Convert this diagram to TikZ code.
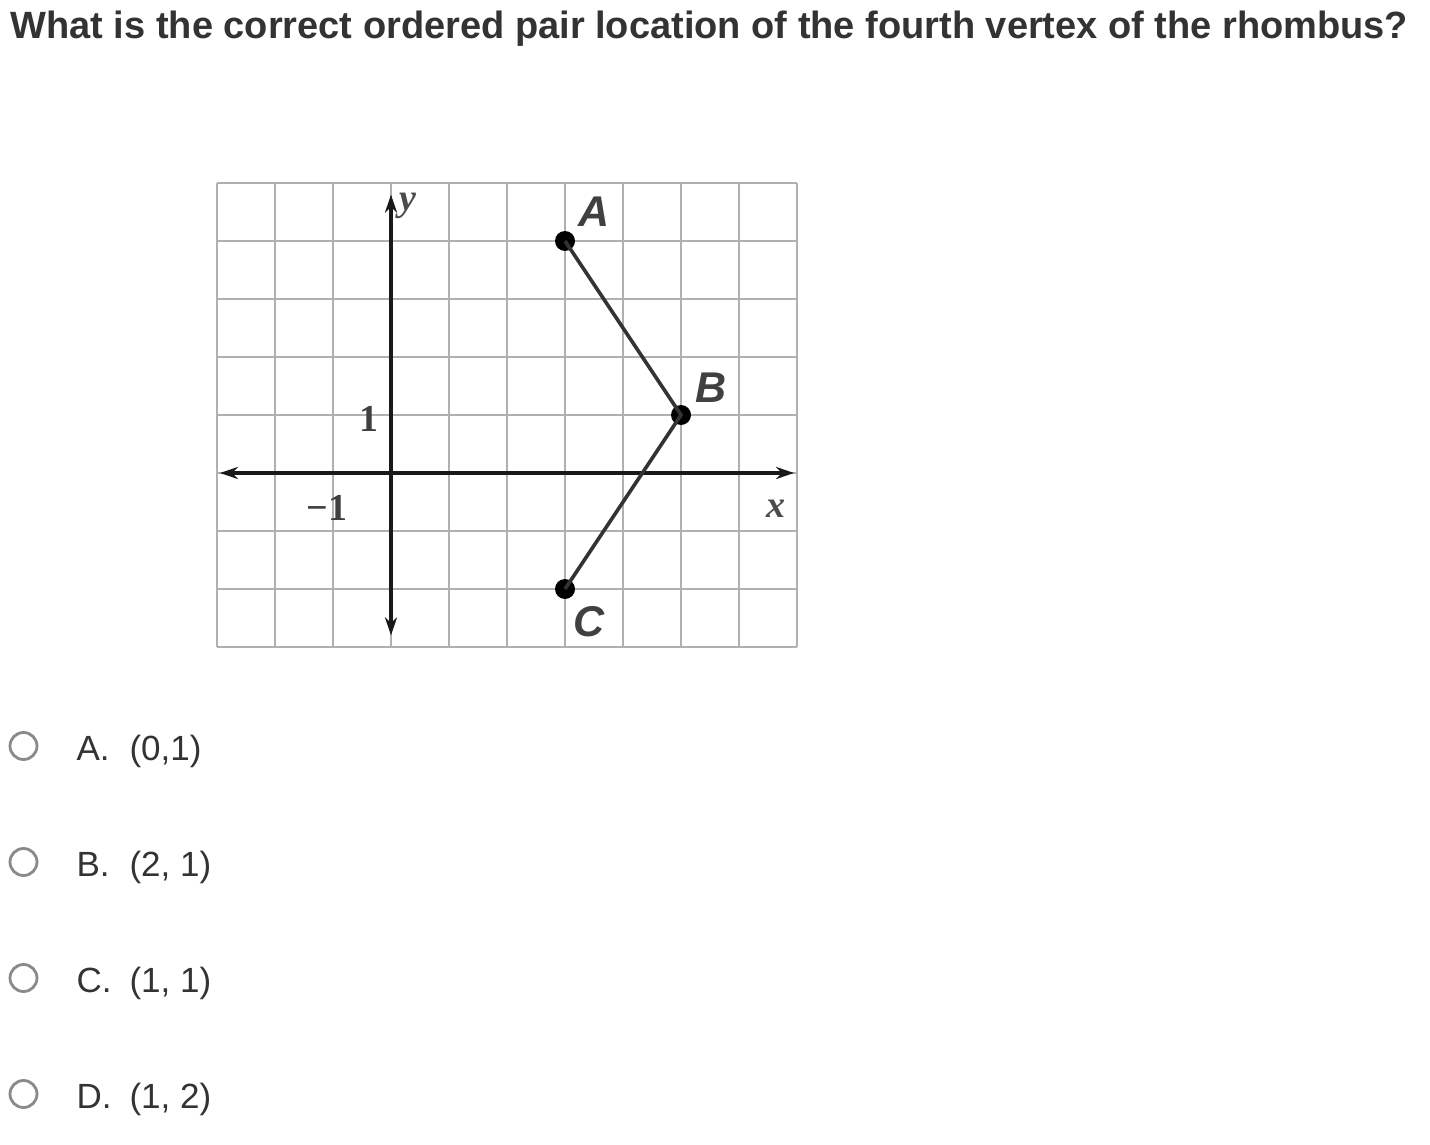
\documentclass[tikz,border=0pt]{standalone}
\usepackage{fontspec}
\setmainfont{Liberation Sans}
\newfontfamily\serifx{Liberation Serif}
\usetikzlibrary{arrows.meta}
\definecolor{txt}{HTML}{333333}
\definecolor{radio}{HTML}{8A8A8A}
\definecolor{gridc}{HTML}{B0B0B0}
\tikzset{
  gridline/.style={draw=gridc, line width=2.8pt},
  axisline/.style={draw=black!90, line width=4.5pt, {Stealth[length=18pt,width=12pt]}-{Stealth[length=18pt,width=12pt]}},
  dot/.style={circle, fill=black, inner sep=0pt, minimum size=20pt},
  seg/.style={draw=black!80, line width=3.6pt},
  ptlabel/.style={font=\bfseries\itshape\fontsize{43}{43}\selectfont, text=black!75},
  axlabel/.style={font=\serifx\bfseries\itshape\fontsize{38}{38}\selectfont, text=black!70},
  ticklabel/.style={font=\serifx\bfseries\fontsize{38}{38}\selectfont, text=black!75},
  radiobtn/.style={circle, draw=radio, line width=2.8pt, minimum size=27pt, inner sep=0pt},
  opttext/.style={anchor=base west, text=txt, font=\fontsize{35}{35}\selectfont},
  title/.style={anchor=base west, text=txt, font=\bfseries\fontsize{38}{38}\selectfont}
}
\begin{document}
\begin{tikzpicture}[x=1pt,y=-1pt]
\useasboundingbox (0,0) rectangle (1430,1145);
\fill[white] (0,0) rectangle (1430,1145);
\node[title] (q) at (7,39) {What is the correct ordered pair location of the fourth vertex of the rhombus?};

\begin{scope}[shift={(391pt,-473pt)}, x=58pt, y=58pt]
  \draw[gridline] (-3,-3) grid[step=1] (7,5);
  \coordinate (xl) at (-2.95,0);
  \coordinate (xr) at (6.95,0);
  \coordinate (yt) at (0,4.8);
  \coordinate (yb) at (0,-2.8);
  \draw[axisline] (xl) -- (xr);
  \draw[axisline] (yb) -- (yt);
  \node[dot] (A) at (3,4) {};
  \node[dot] (B) at (5,1) {};
  \node[dot] (C) at (3,-2) {};
  \draw[seg] (A.center) -- (B.center) -- (C.center);
  \node[ptlabel] (lA) at (3.5,4.5) {A};
  \node[ptlabel] (lB) at (5.52,1.47) {B};
  \node[ptlabel] (lC) at (3.42,-2.57) {C};
  \node[axlabel] (ly) at (0.3,4.6) {y};
  \node[axlabel] (lx) at (6.64,-0.62) {x};
  \node[ticklabel] (t1) at (-0.38,0.93) {1};
  \node[ticklabel] (tm1) at (-1.1,-0.6) {−1};
\end{scope}

\node[radiobtn] (rA) at (23.5,746) {};
\node[opttext] (oA) at (73,760) {A.};
\node[opttext] (vA) at (126,760) {(0,1)};
\node[radiobtn] (rB) at (23.5,862) {};
\node[opttext] (oB) at (73,876) {B.};
\node[opttext] (vB) at (126,876) {(2, 1)};
\node[radiobtn] (rC) at (23.5,978) {};
\node[opttext] (oC) at (73,992) {C.};
\node[opttext] (vC) at (126,992) {(1, 1)};
\node[radiobtn] (rD) at (23.5,1094) {};
\node[opttext] (oD) at (73,1108) {D.};
\node[opttext] (vD) at (126,1108) {(1, 2)};
\end{tikzpicture}
\end{document}
